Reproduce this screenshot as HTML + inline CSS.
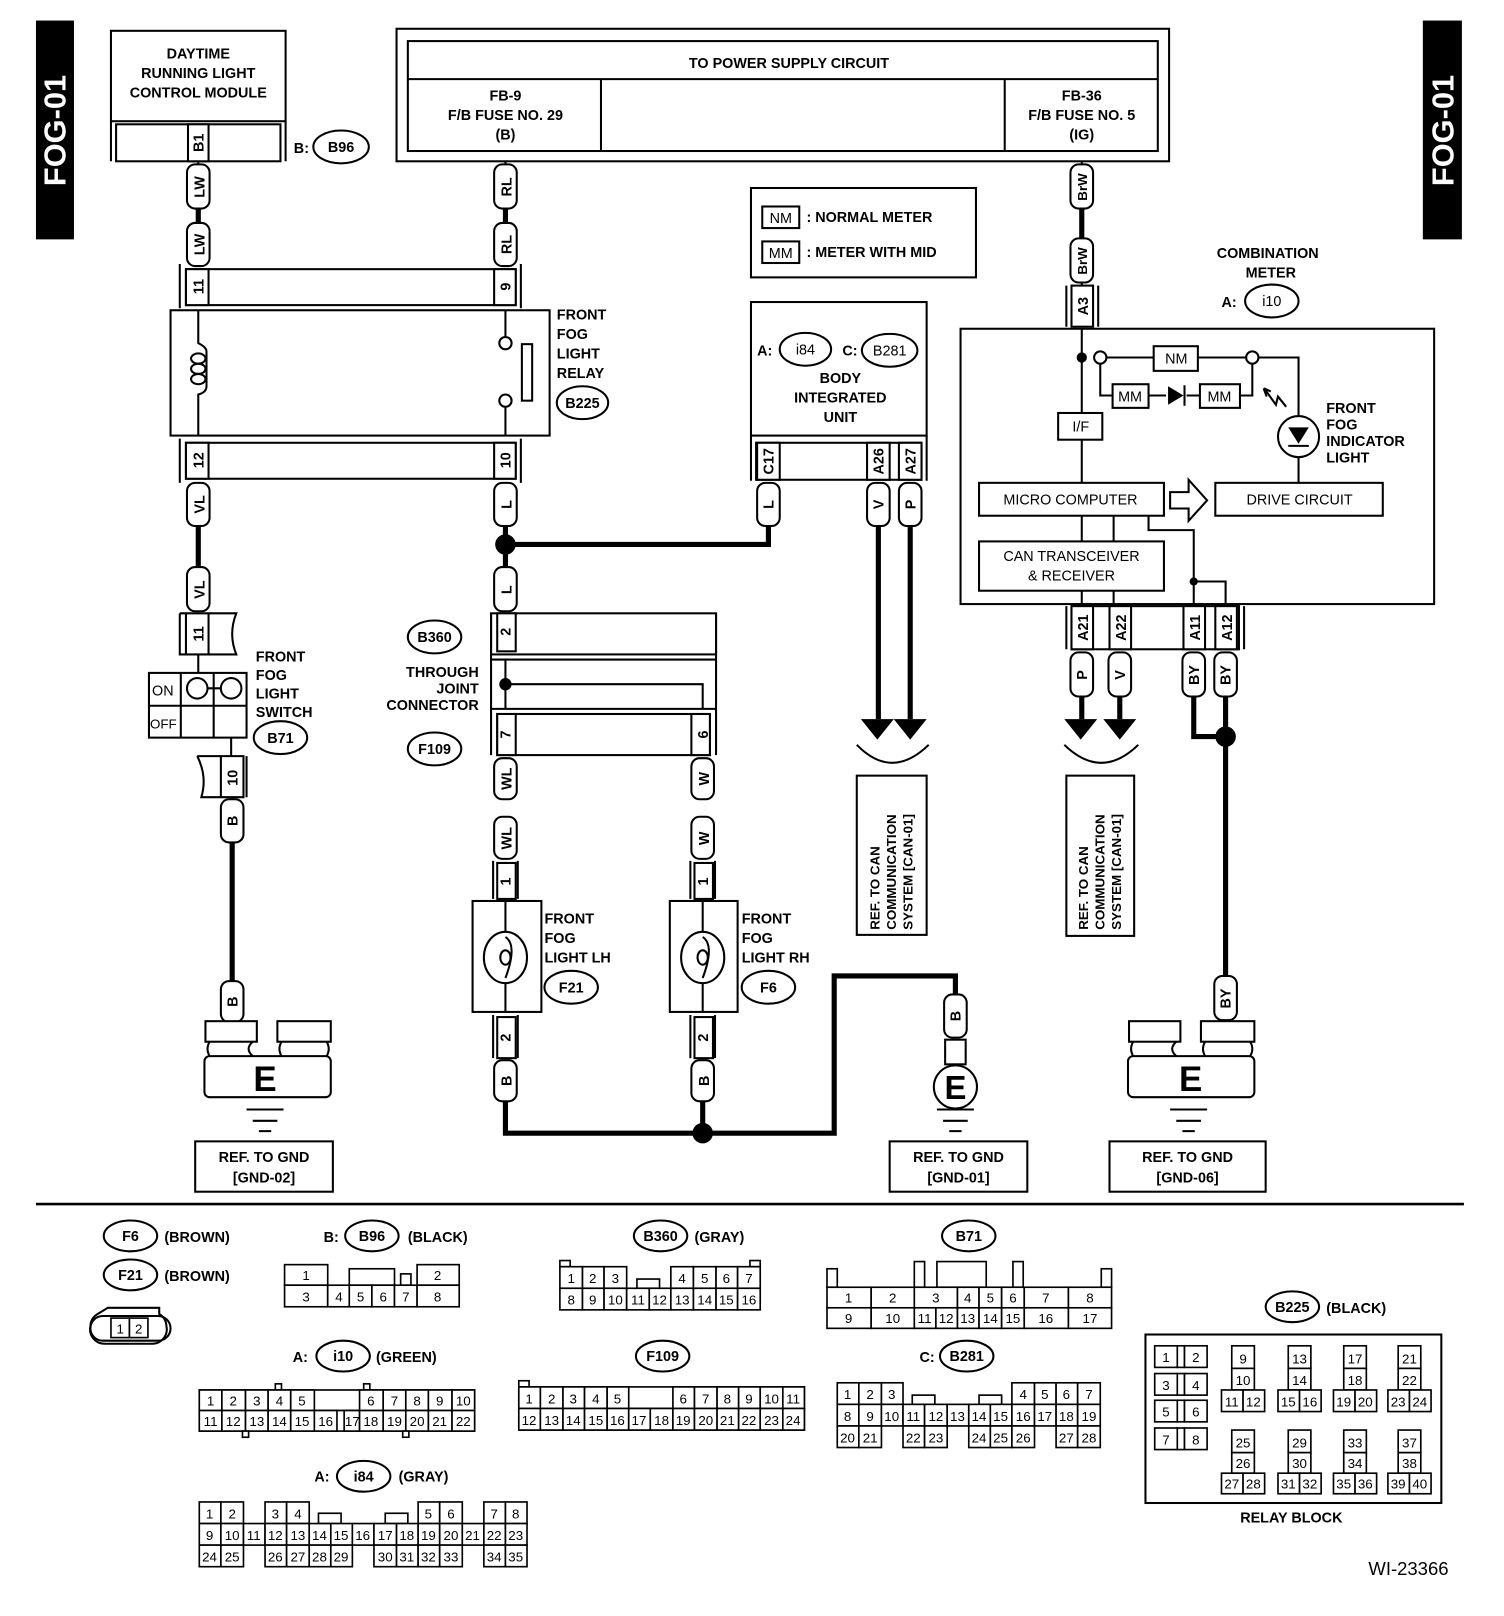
<!DOCTYPE html>
<html><head><meta charset="utf-8"><style>
html,body{margin:0;padding:0;background:#fff}
svg{display:block}
text{font-family:"Liberation Sans",sans-serif;font-weight:bold;font-size:14px;fill:#000}
.n text{font-weight:normal;font-size:13px;text-anchor:middle}
.n rect{fill:#fff;stroke:#000;stroke-width:1.6}
.s{fill:none;stroke:#000;stroke-width:2}
.w{fill:#fff;stroke:#000;stroke-width:2}
.t{fill:none;stroke:#000;stroke-width:5}
.m{text-anchor:middle}
.e{fill:#fff;stroke:#000;stroke-width:2}
</style></head><body>
<svg width="1504" height="1616" viewBox="0 0 1464 1573" preserveAspectRatio="none" xmlns="http://www.w3.org/2000/svg">
<rect x="35" y="20" width="37" height="213" fill="#000"/>
<text transform="translate(64,127) rotate(-90)" class="m" style="fill:#fff;font-size:30px">FOG-01</text>
<rect x="1385" y="20" width="38" height="213" fill="#000"/>
<text transform="translate(1415,127) rotate(-90)" class="m" style="fill:#fff;font-size:30px">FOG-01</text>

<rect class="w" x="108" y="30" width="170" height="88"/>
<text class="m" x="193" y="57">DAYTIME</text>
<text class="m" x="193" y="76">RUNNING LIGHT</text>
<text class="m" x="193" y="95">CONTROL MODULE</text>
<path class="s" d="M108 118V157M278 118V157"/>
<rect class="w" x="113" y="121" width="160" height="36"/>
<rect class="w" x="183" y="121" width="20" height="36"/>
<text transform="translate(198,139) rotate(-90)" class="m">B1</text>
<text x="286" y="149">B:</text>
<ellipse class="e" cx="332" cy="143" rx="27" ry="16"/><text class="m" x="332" y="148">B96</text>

<rect class="w" x="386" y="28" width="752" height="129"/>
<rect class="w" x="397" y="40" width="730" height="107"/>
<path class="s" d="M397 77H1127M585 77V147M978 77V147"/>
<text class="m" x="768" y="66">TO POWER SUPPLY CIRCUIT</text>
<text class="m" x="492" y="98">FB-9</text><text class="m" x="492" y="117">F/B FUSE NO. 29</text><text class="m" x="492" y="136">(B)</text>
<text class="m" x="1053" y="98">FB-36</text><text class="m" x="1053" y="117">F/B FUSE NO. 5</text><text class="m" x="1053" y="136">(IG)</text>

<path class="t" d="M193 203V217M492 203V217M1053 203V232M193 512V552M492 512V552M492 530H748V512M226 820V955M855 512V700M886 512V700M1053 678V700M1090 678V700M1162 678V717H1193M1193 678V950M492 1072V1103H684M684 1072V1103H812V950H930V968"/>
<circle cx="492" cy="530" r="10"/>
<circle cx="684" cy="1103" r="10"/>
<circle cx="1193" cy="717" r="10"/>
<path d="M838 700h32l-16 20zM870 700h32l-16 20zM1036 700h32l-16 20zM1074 700h32l-16 20z"/>
<path class="s" d="M834 725q34 35 70 0M1036 725q36 35 72 0"/>

<g class="w">
<rect x="182" y="160" width="22" height="43" rx="8"/><rect x="182" y="217" width="22" height="42" rx="8"/>
<rect x="481" y="160" width="22" height="43" rx="8"/><rect x="481" y="217" width="22" height="42" rx="8"/>
<rect x="1042" y="160" width="22" height="43" rx="8"/><rect x="1042" y="232" width="22" height="43" rx="8"/>
<rect x="182" y="470" width="22" height="42" rx="8"/><rect x="481" y="470" width="22" height="42" rx="8"/>
<rect x="182" y="552" width="22" height="43" rx="8"/><rect x="481" y="552" width="22" height="43" rx="8"/>
<rect x="737" y="470" width="22" height="42" rx="8"/><rect x="844" y="470" width="22" height="42" rx="8"/><rect x="875" y="470" width="22" height="42" rx="8"/>
<rect x="1042" y="635" width="22" height="43" rx="8"/><rect x="1079" y="635" width="22" height="43" rx="8"/><rect x="1151" y="635" width="22" height="43" rx="8"/><rect x="1182" y="635" width="22" height="43" rx="8"/>
<rect x="215" y="778" width="22" height="42" rx="8"/><rect x="215" y="955" width="22" height="40" rx="8"/>
<rect x="481" y="738" width="22" height="40" rx="8"/><rect x="481" y="795" width="22" height="41" rx="8"/>
<rect x="673" y="738" width="22" height="40" rx="8"/><rect x="673" y="795" width="22" height="41" rx="8"/>
<rect x="481" y="1032" width="22" height="40" rx="8"/><rect x="673" y="1032" width="22" height="40" rx="8"/>
<rect x="919" y="968" width="22" height="42" rx="8"/><rect x="1182" y="950" width="22" height="43" rx="8"/>
</g>
<path class="s" d="M193 157V160M492 157V160M1053 157V160M1053 275V278"/>
<g>
<text transform="translate(199,182) rotate(-90)" class="m">LW</text><text transform="translate(199,238) rotate(-90)" class="m">LW</text>
<text transform="translate(498,182) rotate(-90)" class="m">RL</text><text transform="translate(498,238) rotate(-90)" class="m">RL</text>
<text transform="translate(1058,182) rotate(-90)" class="m" style="font-size:13px">BrW</text><text transform="translate(1058,254) rotate(-90)" class="m" style="font-size:13px">BrW</text>
<text transform="translate(199,491) rotate(-90)" class="m">VL</text><text transform="translate(498,491) rotate(-90)" class="m">L</text>
<text transform="translate(199,574) rotate(-90)" class="m">VL</text><text transform="translate(498,574) rotate(-90)" class="m">L</text>
<text transform="translate(753,491) rotate(-90)" class="m">L</text><text transform="translate(860,491) rotate(-90)" class="m">V</text><text transform="translate(891,491) rotate(-90)" class="m">P</text>
<text transform="translate(1058,657) rotate(-90)" class="m">P</text><text transform="translate(1095,657) rotate(-90)" class="m">V</text><text transform="translate(1167,657) rotate(-90)" class="m">BY</text><text transform="translate(1198,657) rotate(-90)" class="m">BY</text>
<text transform="translate(231,799) rotate(-90)" class="m">B</text><text transform="translate(231,975) rotate(-90)" class="m">B</text>
<text transform="translate(498,758) rotate(-90)" class="m">WL</text><text transform="translate(498,816) rotate(-90)" class="m">WL</text>
<text transform="translate(690,758) rotate(-90)" class="m">W</text><text transform="translate(690,816) rotate(-90)" class="m">W</text>
<text transform="translate(498,1052) rotate(-90)" class="m">B</text><text transform="translate(690,1052) rotate(-90)" class="m">B</text>
<text transform="translate(935,989) rotate(-90)" class="m">B</text><text transform="translate(1198,972) rotate(-90)" class="m">BY</text>
</g>

<path class="s" d="M175 257V300M507 257V300M175 427V470M507 427V470"/>
<rect class="w" x="181" y="262" width="321" height="35"/>
<rect class="w" x="181" y="262" width="22" height="35"/><rect class="w" x="481" y="262" width="21" height="35"/>
<text transform="translate(198,279) rotate(-90)" class="m">11</text><text transform="translate(497,279) rotate(-90)" class="m">9</text>
<rect class="w" x="166" y="302" width="369" height="122"/>
<path class="s" d="M193 302V334q8 4 8 8v34q0 6-8 8V424"/>
<ellipse class="s" cx="193" cy="349" rx="7" ry="5"/><ellipse class="s" cx="193" cy="359" rx="7" ry="5"/><ellipse class="s" cx="193" cy="369" rx="7" ry="5"/>
<path class="s" d="M492 302V328M492 396V424"/>
<circle class="w" cx="492" cy="334" r="6"/><circle class="w" cx="492" cy="390" r="6"/>
<rect class="w" x="508" y="335" width="10" height="55"/>
<text x="542" y="311">FRONT</text><text x="542" y="330">FOG</text><text x="542" y="349">LIGHT</text><text x="542" y="368">RELAY</text>
<ellipse class="e" cx="567" cy="392" rx="25" ry="16"/><text class="m" x="567" y="397">B225</text>
<rect class="w" x="181" y="431" width="321" height="35"/>
<rect class="w" x="181" y="431" width="22" height="35"/><rect class="w" x="481" y="431" width="21" height="35"/>
<text transform="translate(198,448) rotate(-90)" class="m">12</text><text transform="translate(497,448) rotate(-90)" class="m">10</text>

<rect class="w" x="731" y="183" width="219" height="87"/>
<rect class="w" x="742" y="201" width="36" height="21"/><text class="m" x="760" y="217" style="font-weight:normal">NM</text><text x="785" y="216">: NORMAL METER</text>
<rect class="w" x="742" y="235" width="36" height="21"/><text class="m" x="760" y="251" style="font-weight:normal">MM</text><text x="785" y="250">: METER WITH MID</text>

<rect class="w" x="731" y="294" width="171" height="130"/>
<text x="737" y="346">A:</text><ellipse class="e" cx="784" cy="340" rx="25" ry="16"/><text class="m" x="784" y="345" style="font-weight:normal">i84</text>
<text x="820" y="346">C:</text><ellipse class="e" cx="866" cy="341" rx="27" ry="16"/><text class="m" x="866" y="346" style="font-weight:normal">B281</text>
<text class="m" x="818" y="373">BODY</text><text class="m" x="818" y="392">INTEGRATED</text><text class="m" x="818" y="411">UNIT</text>
<path class="s" d="M731 424V468M902 424V468"/>
<rect class="w" x="736" y="431" width="161" height="36"/>
<rect class="w" x="737" y="431" width="22" height="36"/><rect class="w" x="844" y="431" width="22" height="36"/><rect class="w" x="875" y="431" width="22" height="36"/>
<text transform="translate(753,449) rotate(-90)" class="m">C17</text><text transform="translate(860,449) rotate(-90)" class="m">A26</text><text transform="translate(891,449) rotate(-90)" class="m">A27</text>

<rect class="w" x="834" y="755" width="68" height="155"/>
<text transform="translate(856,905) rotate(-90)" style="font-size:13px">REF. TO CAN</text>
<text transform="translate(872,905) rotate(-90)" style="font-size:13px">COMMUNICATION</text>
<text transform="translate(888,905) rotate(-90)" style="font-size:13px">SYSTEM [CAN-01]</text>
<rect class="w" x="1038" y="755" width="66" height="156"/>
<text transform="translate(1059,905) rotate(-90)" style="font-size:13px">REF. TO CAN</text>
<text transform="translate(1075,905) rotate(-90)" style="font-size:13px">COMMUNICATION</text>
<text transform="translate(1091,905) rotate(-90)" style="font-size:13px">SYSTEM [CAN-01]</text>

<text class="m" x="1234" y="251">COMBINATION</text><text class="m" x="1237" y="270">METER</text>
<text x="1189" y="299">A:</text><ellipse class="e" cx="1238" cy="293" rx="26" ry="16"/><text class="m" x="1238" y="298" style="font-weight:normal">i10</text>
<path class="s" d="M1038 278V318M1069 278V318"/>
<rect class="w" x="1043" y="278" width="21" height="40"/>
<text transform="translate(1059,298) rotate(-90)" class="m">A3</text>
<rect class="w" x="935" y="320" width="461" height="268"/>
<path class="s" d="M1053 320V588M1077 348H1123M1166 348H1213M1225 348H1264V470M1071 354V385H1083M1118 385H1135M1155 385H1168M1207 385H1219V354M1084 502V527M1084 575V588M1118 502V516H1162V588M1162 566H1193V588"/>
<circle cx="1053" cy="348" r="5"/><circle cx="1162" cy="566" r="4"/>
<circle class="w" cx="1071" cy="348" r="6"/><circle class="w" cx="1219" cy="348" r="6"/>
<rect class="w" x="1123" y="337" width="43" height="24"/><text class="m" x="1145" y="354" style="font-weight:normal">NM</text>
<rect class="w" x="1083" y="374" width="35" height="23"/><text class="m" x="1100" y="391" style="font-weight:normal">MM</text>
<rect class="w" x="1168" y="374" width="39" height="23"/><text class="m" x="1187" y="391" style="font-weight:normal">MM</text>
<path d="M1137 376v18l15-9z"/><path class="s" d="M1153 375v20"/>
<path class="s" d="M1232 380l10 14l2-8l8 10M1230 378l3 8M1230 378l7 3"/>
<circle class="w" cx="1264" cy="425" r="20"/><path d="M1254 416h20l-10 16z"/><path class="s" d="M1254 434h20"/>
<text x="1291" y="402">FRONT</text><text x="1291" y="418">FOG</text><text x="1291" y="434">INDICATOR</text><text x="1291" y="450">LIGHT</text>
<rect class="w" x="1030" y="402" width="43" height="26"/><text class="m" x="1052" y="420" style="font-weight:normal">I/F</text>
<rect class="w" x="953" y="470" width="180" height="32"/><text class="m" x="1042" y="491" style="font-weight:normal">MICRO COMPUTER</text>
<path class="w" d="M1139 479h18v-12l18 20l-18 20v-12h-18z"/>
<rect class="w" x="1183" y="470" width="163" height="32"/><text class="m" x="1265" y="491" style="font-weight:normal">DRIVE CIRCUIT</text>
<rect class="w" x="953" y="527" width="180" height="48"/><text class="m" x="1043" y="546" style="font-weight:normal">CAN TRANSCEIVER</text><text class="m" x="1043" y="565" style="font-weight:normal">&amp; RECEIVER</text>
<path class="s" d="M1038 590V632M1211 590V632"/>
<rect class="w" x="1043" y="590" width="163" height="42"/>
<rect class="w" x="1043" y="590" width="21" height="42"/><rect class="w" x="1080" y="590" width="21" height="42"/><rect class="w" x="1152" y="590" width="21" height="42"/><rect class="w" x="1183" y="590" width="21" height="42"/>
<text transform="translate(1059,611) rotate(-90)" class="m">A21</text><text transform="translate(1096,611) rotate(-90)" class="m">A22</text><text transform="translate(1168,611) rotate(-90)" class="m">A11</text><text transform="translate(1199,611) rotate(-90)" class="m">A12</text>

<path class="s" d="M175 597V637H230q-8-20 0-40H175M181 597V637M203 597V637M193 637V655M225 718V736"/>
<text transform="translate(198,617) rotate(-90)" class="m">11</text>
<rect class="w" x="145" y="655" width="95" height="63"/>
<path class="s" d="M176 655V718M208 655V718M145 687H240M202 670H215"/>
<ellipse class="w" cx="192" cy="670" rx="10" ry="10"/><ellipse class="w" cx="225" cy="670" rx="10" ry="10"/>
<text x="148" y="677" style="font-weight:normal">ON</text><text x="146" y="709" style="font-weight:normal;font-size:13px">OFF</text>
<text x="249" y="644">FRONT</text><text x="249" y="662">FOG</text><text x="249" y="680">LIGHT</text><text x="249" y="698">SWITCH</text>
<ellipse class="e" cx="273" cy="718" rx="26" ry="16"/><text class="m" x="273" y="723">B71</text>
<path class="s" d="M240 736V776M192 736H237V776H196q6-20-4-40M215 736V776"/>
<text transform="translate(231,757) rotate(-90)" class="m">10</text>
<path class="s" d="M226 776V778"/>

<!-- Grounds (caps + posts + base) -->
<g class="s">
<rect class="w" x="200" y="994" width="50" height="20"/>
<rect class="w" x="270" y="994" width="52" height="20"/>
<path d="M204 1014q-4 7 0 14M246 1014q-8 7 0 14M274 1014q-4 7 0 14M318 1014q4 7 0 14"/>
<rect class="w" x="199" y="1028" width="123" height="40" rx="5"/>
<rect class="w" x="1099" y="994" width="50" height="20"/>
<rect class="w" x="1169" y="994" width="52" height="20"/>
<path d="M1103 1014q-4 7 0 14M1145 1014q-8 7 0 14M1173 1014q-4 7 0 14M1217 1014q4 7 0 14"/>
<rect class="w" x="1098" y="1028" width="123" height="40" rx="5"/>
<path d="M240 1080h36M246 1091h24M252 1101h12M1139 1080h36M1145 1091h24M1151 1101h12M912 1080h36M918 1091h24M924 1101h12"/>
</g>
<text class="m" x="258" y="1062" style="font-size:34px">E</text>
<text class="m" x="1159" y="1062" style="font-size:34px">E</text>
<rect class="w" x="920" y="1012" width="20" height="24"/>
<circle class="w" cx="930" cy="1058" r="21"/><text class="m" x="930" y="1070" style="font-size:32px">E</text>
<rect class="w" x="190" y="1111" width="134" height="49"/><text class="m" x="257" y="1131">REF. TO GND</text><text class="m" x="257" y="1151">[GND-02]</text>
<rect class="w" x="866" y="1111" width="134" height="49"/><text class="m" x="933" y="1131">REF. TO GND</text><text class="m" x="933" y="1151">[GND-01]</text>
<rect class="w" x="1080" y="1111" width="152" height="49"/><text class="m" x="1156" y="1131">REF. TO GND</text><text class="m" x="1156" y="1151">[GND-06]</text>

<rect class="w" x="478" y="597" width="219" height="40"/><rect class="w" x="484" y="597" width="18" height="37"/>
<path class="s" d="M478 597V735M697 597V735M478 642H697M478 690H697M492 642V690M492 666H684V690"/>
<circle cx="492" cy="666" r="6"/>
<text transform="translate(497,615) rotate(-90)" class="m">2</text>
<rect class="w" x="484" y="695" width="207" height="40"/><rect class="w" x="484" y="695" width="18" height="40"/><rect class="w" x="673" y="695" width="18" height="40"/>
<text transform="translate(497,715) rotate(-90)" class="m">7</text><text transform="translate(689,715) rotate(-90)" class="m">6</text>
<ellipse class="e" cx="423" cy="620" rx="26" ry="16"/><text class="m" x="423" y="625">B360</text>
<text x="466" y="659" style="text-anchor:end">THROUGH</text><text x="466" y="675" style="text-anchor:end">JOINT</text><text x="466" y="691" style="text-anchor:end">CONNECTOR</text>
<ellipse class="e" cx="423" cy="729" rx="26" ry="16"/><text class="m" x="423" y="734">F109</text>

<path class="s" d="M480 838V875M504 838V875M672 838V875M696 838V875M480 988V1030M504 988V1030M672 988V1030M696 988V1030"/>
<rect class="w" x="484" y="840" width="18" height="35"/><rect class="w" x="676" y="840" width="18" height="35"/>
<text transform="translate(497,858) rotate(-90)" class="m">1</text><text transform="translate(689,858) rotate(-90)" class="m">1</text>
<rect class="w" x="460" y="877" width="67" height="108"/><rect class="w" x="652" y="877" width="66" height="108"/>
<path class="s" d="M492 877V985M684 877V985"/>
<ellipse class="w" cx="492" cy="932" rx="21" ry="25"/><ellipse class="w" cx="684" cy="932" rx="21" ry="25"/>
<path class="s" d="M492 912q12 8 0 40M684 912q12 8 0 40"/>
<ellipse class="s" cx="492" cy="932" rx="5" ry="7"/><ellipse class="s" cx="684" cy="932" rx="5" ry="7"/>
<rect class="w" x="484" y="990" width="18" height="40"/><rect class="w" x="676" y="990" width="18" height="40"/>
<text transform="translate(497,1010) rotate(-90)" class="m">2</text><text transform="translate(689,1010) rotate(-90)" class="m">2</text>
<text x="530" y="899">FRONT</text><text x="530" y="918">FOG</text><text x="530" y="937">LIGHT LH</text>
<ellipse class="e" cx="556" cy="961" rx="26" ry="16"/><text class="m" x="556" y="966">F21</text>
<text x="722" y="899">FRONT</text><text x="722" y="918">FOG</text><text x="722" y="937">LIGHT RH</text>
<ellipse class="e" cx="748" cy="961" rx="26" ry="16"/><text class="m" x="748" y="966">F6</text>

<path d="M35 1172H1425" stroke="#000" stroke-width="2.5"/>

<ellipse class="e" cx="127" cy="1203" rx="26" ry="15"/><text class="m" x="127" y="1208">F6</text><text x="160" y="1209">(BROWN)</text>
<ellipse class="e" cx="127" cy="1241" rx="26" ry="15"/><text class="m" x="127" y="1246">F21</text><text x="160" y="1247">(BROWN)</text>
<path class="s" d="M105 1273h50v6a14 14 0 0 1 7 12 14 14 0 0 1-14 17h-46a14 14 0 0 1-14-17 14 14 0 0 1 7-12z"/>
<path class="s" d="M100 1281h54a10 10 0 0 1 0 24h-54a10 10 0 0 1 0-24z"/>
<g class="n"><rect x="108" y="1283" width="18" height="19"/><rect x="126" y="1283" width="18" height="19"/><text x="117" y="1298">1</text><text x="135" y="1298">2</text></g>

<text x="315" y="1209">B:</text><ellipse class="e" cx="362" cy="1203" rx="26" ry="15"/><text class="m" x="362" y="1208">B96</text><text x="397" y="1209">(BLACK)</text>
<g class="n">
<rect x="277" y="1231" width="42" height="20"/><text x="298" y="1246">1</text>
<rect x="340" y="1235" width="44" height="16"/><rect x="390" y="1240" width="10" height="11"/>
<rect x="406" y="1231" width="41" height="20"/><text x="426" y="1246">2</text>
<rect x="277" y="1251" width="42" height="21"/><text x="298" y="1267">3</text>
<rect x="319" y="1251" width="21" height="21"/><text x="330" y="1267">4</text>
<rect x="340" y="1251" width="22" height="21"/><text x="351" y="1267">5</text>
<rect x="362" y="1251" width="22" height="21"/><text x="373" y="1267">6</text>
<rect x="384" y="1251" width="22" height="21"/><text x="395" y="1267">7</text>
<rect x="406" y="1251" width="41" height="21"/><text x="426" y="1267">8</text>
</g>

<ellipse class="e" cx="643" cy="1203" rx="26" ry="15"/><text class="m" x="643" y="1208">B360</text><text x="676" y="1209">(GRAY)</text>
<g class="n">
<rect x="545" y="1227" width="10" height="6"/><rect x="730" y="1227" width="10" height="6"/><rect x="620" y="1245" width="22" height="9"/>
<rect x="545" y="1233" width="22" height="21"/><text x="556" y="1249">1</text>
<rect x="567" y="1233" width="21" height="21"/><text x="577" y="1249">2</text>
<rect x="588" y="1233" width="22" height="21"/><text x="599" y="1249">3</text>
<rect x="653" y="1233" width="22" height="21"/><text x="664" y="1249">4</text>
<rect x="675" y="1233" width="22" height="21"/><text x="686" y="1249">5</text>
<rect x="697" y="1233" width="21" height="21"/><text x="707" y="1249">6</text>
<rect x="718" y="1233" width="22" height="21"/><text x="729" y="1249">7</text>
<rect x="545" y="1254" width="22" height="21"/><text x="556" y="1270">8</text>
<rect x="567" y="1254" width="21" height="21"/><text x="577" y="1270">9</text>
<rect x="588" y="1254" width="22" height="21"/><text x="599" y="1270">10</text>
<rect x="610" y="1254" width="22" height="21"/><text x="621" y="1270">11</text>
<rect x="632" y="1254" width="21" height="21"/><text x="642" y="1270">12</text>
<rect x="653" y="1254" width="22" height="21"/><text x="664" y="1270">13</text>
<rect x="675" y="1254" width="22" height="21"/><text x="686" y="1270">14</text>
<rect x="697" y="1254" width="21" height="21"/><text x="707" y="1270">15</text>
<rect x="718" y="1254" width="22" height="21"/><text x="729" y="1270">16</text>
</g>

<ellipse class="e" cx="943" cy="1203" rx="26" ry="15"/><text class="m" x="943" y="1208">B71</text>
<g class="n">
<rect x="805" y="1235" width="10" height="18"/><rect x="1072" y="1235" width="10" height="18"/>
<rect x="890" y="1228" width="10" height="25"/><rect x="912" y="1228" width="48" height="25"/><rect x="986" y="1228" width="10" height="25"/>
<rect x="805" y="1253" width="43" height="20"/><text x="826" y="1268">1</text>
<rect x="848" y="1253" width="42" height="20"/><text x="869" y="1268">2</text>
<rect x="890" y="1253" width="42" height="20"/><text x="911" y="1268">3</text>
<rect x="932" y="1253" width="21" height="20"/><text x="942" y="1268">4</text>
<rect x="953" y="1253" width="22" height="20"/><text x="964" y="1268">5</text>
<rect x="975" y="1253" width="22" height="20"/><text x="986" y="1268">6</text>
<rect x="997" y="1253" width="43" height="20"/><text x="1018" y="1268">7</text>
<rect x="1040" y="1253" width="42" height="20"/><text x="1061" y="1268">8</text>
<rect x="805" y="1273" width="43" height="20"/><text x="826" y="1288">9</text>
<rect x="848" y="1273" width="42" height="20"/><text x="869" y="1288">10</text>
<rect x="890" y="1273" width="21" height="20"/><text x="900" y="1288">11</text>
<rect x="911" y="1273" width="21" height="20"/><text x="921" y="1288">12</text>
<rect x="932" y="1273" width="21" height="20"/><text x="942" y="1288">13</text>
<rect x="953" y="1273" width="22" height="20"/><text x="964" y="1288">14</text>
<rect x="975" y="1273" width="22" height="20"/><text x="986" y="1288">15</text>
<rect x="997" y="1273" width="43" height="20"/><text x="1018" y="1288">16</text>
<rect x="1040" y="1273" width="42" height="20"/><text x="1061" y="1288">17</text>
</g>

<text x="285" y="1326">A:</text><ellipse class="e" cx="334" cy="1320" rx="26" ry="15"/><text class="m" x="334" y="1325">i10</text><text x="366" y="1326">(GREEN)</text>
<g class="n">
<rect x="268" y="1347" width="6" height="6"/><rect x="354" y="1347" width="6" height="6"/><rect x="312" y="1356" width="32" height="8"/>
<rect x="194" y="1353" width="268" height="20"/><rect x="194" y="1373" width="268" height="20"/>
<rect x="194" y="1353" width="22" height="20"/><text x="205" y="1368">1</text>
<rect x="216" y="1353" width="23" height="20"/><text x="227" y="1368">2</text>
<rect x="239" y="1353" width="22" height="20"/><text x="250" y="1368">3</text>
<rect x="261" y="1353" width="22" height="20"/><text x="272" y="1368">4</text>
<rect x="283" y="1353" width="23" height="20"/><text x="294" y="1368">5</text>
<rect x="350" y="1353" width="23" height="20"/><text x="361" y="1368">6</text>
<rect x="373" y="1353" width="22" height="20"/><text x="384" y="1368">7</text>
<rect x="395" y="1353" width="22" height="20"/><text x="406" y="1368">8</text>
<rect x="417" y="1353" width="23" height="20"/><text x="428" y="1368">9</text>
<rect x="440" y="1353" width="22" height="20"/><text x="451" y="1368">10</text>
<rect x="194" y="1373" width="22" height="20"/><text x="205" y="1388">11</text>
<rect x="216" y="1373" width="23" height="20"/><text x="227" y="1388">12</text>
<rect x="239" y="1373" width="22" height="20"/><text x="250" y="1388">13</text>
<rect x="261" y="1373" width="22" height="20"/><text x="272" y="1388">14</text>
<rect x="283" y="1373" width="23" height="20"/><text x="294" y="1388">15</text>
<rect x="306" y="1373" width="22" height="20"/><text x="317" y="1388">16</text>
<rect x="335" y="1373" width="15" height="20"/><text x="343" y="1388">17</text>
<rect x="350" y="1373" width="23" height="20"/><text x="361" y="1388">18</text>
<rect x="373" y="1373" width="22" height="20"/><text x="384" y="1388">19</text>
<rect x="395" y="1373" width="22" height="20"/><text x="406" y="1388">20</text>
<rect x="417" y="1373" width="23" height="20"/><text x="428" y="1388">21</text>
<rect x="440" y="1373" width="22" height="20"/><text x="451" y="1388">22</text>
<rect x="236" y="1393" width="6" height="6"/><rect x="392" y="1393" width="6" height="6"/>
</g>

<ellipse class="e" cx="645" cy="1320" rx="26" ry="15"/><text class="m" x="645" y="1325">F109</text>
<g class="n">
<rect x="505" y="1344" width="10" height="6"/><rect x="623" y="1361" width="22" height="10"/>
<rect x="505" y="1350" width="278" height="21"/><rect x="505" y="1371" width="278" height="21"/>
<rect x="505" y="1350" width="21" height="21"/><text x="515" y="1366">1</text>
<rect x="526" y="1350" width="22" height="21"/><text x="537" y="1366">2</text>
<rect x="548" y="1350" width="21" height="21"/><text x="558" y="1366">3</text>
<rect x="569" y="1350" width="22" height="21"/><text x="580" y="1366">4</text>
<rect x="591" y="1350" width="21" height="21"/><text x="601" y="1366">5</text>
<rect x="655" y="1350" width="21" height="21"/><text x="665" y="1366">6</text>
<rect x="676" y="1350" width="22" height="21"/><text x="687" y="1366">7</text>
<rect x="698" y="1350" width="21" height="21"/><text x="708" y="1366">8</text>
<rect x="719" y="1350" width="21" height="21"/><text x="729" y="1366">9</text>
<rect x="740" y="1350" width="22" height="21"/><text x="751" y="1366">10</text>
<rect x="762" y="1350" width="21" height="21"/><text x="772" y="1366">11</text>
<rect x="505" y="1371" width="21" height="21"/><text x="515" y="1387">12</text>
<rect x="526" y="1371" width="22" height="21"/><text x="537" y="1387">13</text>
<rect x="548" y="1371" width="21" height="21"/><text x="558" y="1387">14</text>
<rect x="569" y="1371" width="22" height="21"/><text x="580" y="1387">15</text>
<rect x="591" y="1371" width="21" height="21"/><text x="601" y="1387">16</text>
<rect x="612" y="1371" width="21" height="21"/><text x="622" y="1387">17</text>
<rect x="633" y="1371" width="22" height="21"/><text x="644" y="1387">18</text>
<rect x="655" y="1371" width="21" height="21"/><text x="665" y="1387">19</text>
<rect x="676" y="1371" width="22" height="21"/><text x="687" y="1387">20</text>
<rect x="698" y="1371" width="21" height="21"/><text x="708" y="1387">21</text>
<rect x="719" y="1371" width="21" height="21"/><text x="729" y="1387">22</text>
<rect x="740" y="1371" width="22" height="21"/><text x="751" y="1387">23</text>
<rect x="762" y="1371" width="21" height="21"/><text x="772" y="1387">24</text>
</g>

<text x="895" y="1326">C:</text><ellipse class="e" cx="941" cy="1320" rx="26" ry="15"/><text class="m" x="941" y="1325">B281</text>
<g class="n">
<rect x="888" y="1358" width="22" height="9"/><rect x="953" y="1358" width="22" height="9"/>
<rect x="815" y="1346" width="21" height="21"/><text x="825" y="1362">1</text>
<rect x="836" y="1346" width="22" height="21"/><text x="847" y="1362">2</text>
<rect x="858" y="1346" width="21" height="21"/><text x="868" y="1362">3</text>
<rect x="985" y="1346" width="22" height="21"/><text x="996" y="1362">4</text>
<rect x="1007" y="1346" width="21" height="21"/><text x="1017" y="1362">5</text>
<rect x="1028" y="1346" width="21" height="21"/><text x="1038" y="1362">6</text>
<rect x="1049" y="1346" width="22" height="21"/><text x="1060" y="1362">7</text>
<rect x="815" y="1367" width="21" height="21"/><text x="825" y="1383">8</text>
<rect x="836" y="1367" width="22" height="21"/><text x="847" y="1383">9</text>
<rect x="858" y="1367" width="21" height="21"/><text x="868" y="1383">10</text>
<rect x="879" y="1367" width="21" height="21"/><text x="889" y="1383">11</text>
<rect x="900" y="1367" width="22" height="21"/><text x="911" y="1383">12</text>
<rect x="922" y="1367" width="21" height="21"/><text x="932" y="1383">13</text>
<rect x="943" y="1367" width="21" height="21"/><text x="953" y="1383">14</text>
<rect x="964" y="1367" width="21" height="21"/><text x="974" y="1383">15</text>
<rect x="985" y="1367" width="22" height="21"/><text x="996" y="1383">16</text>
<rect x="1007" y="1367" width="21" height="21"/><text x="1017" y="1383">17</text>
<rect x="1028" y="1367" width="21" height="21"/><text x="1038" y="1383">18</text>
<rect x="1049" y="1367" width="22" height="21"/><text x="1060" y="1383">19</text>
<rect x="815" y="1388" width="21" height="21"/><text x="825" y="1404">20</text>
<rect x="836" y="1388" width="22" height="21"/><text x="847" y="1404">21</text>
<rect x="879" y="1388" width="21" height="21"/><text x="889" y="1404">22</text>
<rect x="900" y="1388" width="22" height="21"/><text x="911" y="1404">23</text>
<rect x="943" y="1388" width="21" height="21"/><text x="953" y="1404">24</text>
<rect x="964" y="1388" width="21" height="21"/><text x="974" y="1404">25</text>
<rect x="985" y="1388" width="22" height="21"/><text x="996" y="1404">26</text>
<rect x="1028" y="1388" width="21" height="21"/><text x="1038" y="1404">27</text>
<rect x="1049" y="1388" width="22" height="21"/><text x="1060" y="1404">28</text>
</g>

<text x="306" y="1442">A:</text><ellipse class="e" cx="354" cy="1437" rx="26" ry="15"/><text class="m" x="354" y="1442">i84</text><text x="388" y="1442">(GRAY)</text>
<g class="n">
<rect x="310" y="1473" width="22" height="10"/><rect x="375" y="1473" width="22" height="10"/>
<rect x="194" y="1462" width="21" height="21"/><text x="204" y="1478">1</text>
<rect x="215" y="1462" width="22" height="21"/><text x="226" y="1478">2</text>
<rect x="258" y="1462" width="21" height="21"/><text x="268" y="1478">3</text>
<rect x="279" y="1462" width="22" height="21"/><text x="290" y="1478">4</text>
<rect x="407" y="1462" width="21" height="21"/><text x="417" y="1478">5</text>
<rect x="428" y="1462" width="22" height="21"/><text x="439" y="1478">6</text>
<rect x="471" y="1462" width="21" height="21"/><text x="481" y="1478">7</text>
<rect x="492" y="1462" width="21" height="21"/><text x="502" y="1478">8</text>
<rect x="194" y="1483" width="21" height="21"/><text x="204" y="1499">9</text>
<rect x="215" y="1483" width="22" height="21"/><text x="226" y="1499">10</text>
<rect x="237" y="1483" width="21" height="21"/><text x="247" y="1499">11</text>
<rect x="258" y="1483" width="21" height="21"/><text x="268" y="1499">12</text>
<rect x="279" y="1483" width="22" height="21"/><text x="290" y="1499">13</text>
<rect x="301" y="1483" width="21" height="21"/><text x="311" y="1499">14</text>
<rect x="322" y="1483" width="21" height="21"/><text x="332" y="1499">15</text>
<rect x="343" y="1483" width="21" height="21"/><text x="353" y="1499">16</text>
<rect x="364" y="1483" width="22" height="21"/><text x="375" y="1499">17</text>
<rect x="386" y="1483" width="21" height="21"/><text x="396" y="1499">18</text>
<rect x="407" y="1483" width="21" height="21"/><text x="417" y="1499">19</text>
<rect x="428" y="1483" width="22" height="21"/><text x="439" y="1499">20</text>
<rect x="450" y="1483" width="21" height="21"/><text x="460" y="1499">21</text>
<rect x="471" y="1483" width="21" height="21"/><text x="481" y="1499">22</text>
<rect x="492" y="1483" width="21" height="21"/><text x="502" y="1499">23</text>
<rect x="194" y="1504" width="21" height="21"/><text x="204" y="1520">24</text>
<rect x="215" y="1504" width="22" height="21"/><text x="226" y="1520">25</text>
<rect x="258" y="1504" width="21" height="21"/><text x="268" y="1520">26</text>
<rect x="279" y="1504" width="22" height="21"/><text x="290" y="1520">27</text>
<rect x="301" y="1504" width="21" height="21"/><text x="311" y="1520">28</text>
<rect x="322" y="1504" width="21" height="21"/><text x="332" y="1520">29</text>
<rect x="364" y="1504" width="22" height="21"/><text x="375" y="1520">30</text>
<rect x="386" y="1504" width="21" height="21"/><text x="396" y="1520">31</text>
<rect x="407" y="1504" width="21" height="21"/><text x="417" y="1520">32</text>
<rect x="428" y="1504" width="22" height="21"/><text x="439" y="1520">33</text>
<rect x="471" y="1504" width="21" height="21"/><text x="481" y="1520">34</text>
<rect x="492" y="1504" width="21" height="21"/><text x="502" y="1520">35</text>
</g>

<ellipse class="e" cx="1258" cy="1272" rx="26" ry="15"/><text class="m" x="1258" y="1277">B225</text><text x="1291" y="1278">(BLACK)</text>
<rect class="w" x="1115" y="1299" width="288" height="164"/>
<g class="n">
<rect x="1124" y="1310" width="22" height="21"/><rect x="1146" y="1310" width="7" height="21"/><rect x="1153" y="1310" width="22" height="21"/><text x="1135" y="1326">1</text><text x="1164" y="1326">2</text>
<rect x="1124" y="1337" width="22" height="21"/><rect x="1146" y="1337" width="7" height="21"/><rect x="1153" y="1337" width="22" height="21"/><text x="1135" y="1353">3</text><text x="1164" y="1353">4</text>
<rect x="1124" y="1363" width="22" height="21"/><rect x="1146" y="1363" width="7" height="21"/><rect x="1153" y="1363" width="22" height="21"/><text x="1135" y="1379">5</text><text x="1164" y="1379">6</text>
<rect x="1124" y="1390" width="22" height="21"/><rect x="1146" y="1390" width="7" height="21"/><rect x="1153" y="1390" width="22" height="21"/><text x="1135" y="1406">7</text><text x="1164" y="1406">8</text>
<rect x="1199" y="1310" width="22" height="22"/><rect x="1199" y="1332" width="22" height="21"/><rect x="1189" y="1353" width="21" height="21"/><rect x="1210" y="1353" width="21" height="21"/>
<text x="1210" y="1327">9</text><text x="1210" y="1348">10</text><text x="1199" y="1369">11</text><text x="1220" y="1369">12</text>
<rect x="1254" y="1310" width="22" height="22"/><rect x="1254" y="1332" width="22" height="21"/><rect x="1244" y="1353" width="21" height="21"/><rect x="1265" y="1353" width="21" height="21"/>
<text x="1265" y="1327">13</text><text x="1265" y="1348">14</text><text x="1254" y="1369">15</text><text x="1275" y="1369">16</text>
<rect x="1308" y="1310" width="22" height="22"/><rect x="1308" y="1332" width="22" height="21"/><rect x="1298" y="1353" width="21" height="21"/><rect x="1319" y="1353" width="21" height="21"/>
<text x="1319" y="1327">17</text><text x="1319" y="1348">18</text><text x="1308" y="1369">19</text><text x="1329" y="1369">20</text>
<rect x="1361" y="1310" width="22" height="22"/><rect x="1361" y="1332" width="22" height="21"/><rect x="1351" y="1353" width="21" height="21"/><rect x="1372" y="1353" width="21" height="21"/>
<text x="1372" y="1327">21</text><text x="1372" y="1348">22</text><text x="1361" y="1369">23</text><text x="1382" y="1369">24</text>
<rect x="1199" y="1392" width="22" height="22"/><rect x="1199" y="1414" width="22" height="20"/><rect x="1189" y="1434" width="21" height="20"/><rect x="1210" y="1434" width="21" height="20"/>
<text x="1210" y="1409">25</text><text x="1210" y="1429">26</text><text x="1199" y="1449">27</text><text x="1220" y="1449">28</text>
<rect x="1254" y="1392" width="22" height="22"/><rect x="1254" y="1414" width="22" height="20"/><rect x="1244" y="1434" width="21" height="20"/><rect x="1265" y="1434" width="21" height="20"/>
<text x="1265" y="1409">29</text><text x="1265" y="1429">30</text><text x="1254" y="1449">31</text><text x="1275" y="1449">32</text>
<rect x="1308" y="1392" width="22" height="22"/><rect x="1308" y="1414" width="22" height="20"/><rect x="1298" y="1434" width="21" height="20"/><rect x="1319" y="1434" width="21" height="20"/>
<text x="1319" y="1409">33</text><text x="1319" y="1429">34</text><text x="1308" y="1449">35</text><text x="1329" y="1449">36</text>
<rect x="1361" y="1392" width="22" height="22"/><rect x="1361" y="1414" width="22" height="20"/><rect x="1351" y="1434" width="21" height="20"/><rect x="1372" y="1434" width="21" height="20"/>
<text x="1372" y="1409">37</text><text x="1372" y="1429">38</text><text x="1361" y="1449">39</text><text x="1382" y="1449">40</text>
</g>
<text class="m" x="1257" y="1482">RELAY BLOCK</text>
<text x="1332" y="1533" style="font-weight:normal;font-size:18px">WI-23366</text>
</svg>
</body></html>
